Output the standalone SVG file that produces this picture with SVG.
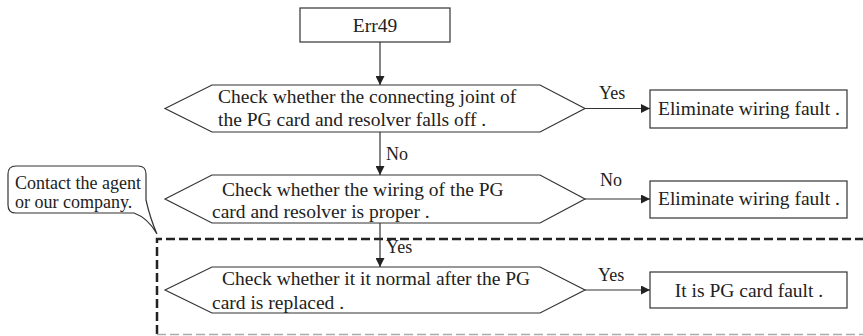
<svg xmlns="http://www.w3.org/2000/svg" width="863" height="336" viewBox="0 0 863 336">
<defs>
<style>
.shape{fill:#fff;stroke:#333;stroke-width:1.2}
.t{font-family:"Liberation Serif","Times New Roman",serif;font-size:19.5px;fill:#222}
.lbl{font-family:"Liberation Serif","Times New Roman",serif;font-size:18px;fill:#222}
.c{stroke:#333;stroke-width:1.2;fill:none}
.dash{stroke:#222;stroke-width:2.5;fill:none;stroke-dasharray:9 4}
</style>
<marker id="ah" viewBox="0 0 10 10" refX="10" refY="5" markerWidth="9" markerHeight="9" markerUnits="userSpaceOnUse" orient="auto">
<path d="M0,0 L10,5 L0,10 Z" fill="#222"/>
</marker>
</defs>
<rect width="863" height="336" fill="#fff"/>
<g id="dashed-region">
<path class="dash" d="M157,334 V239 H863"/>
<path d="M157,334.5 H863" stroke="#aaa" stroke-width="1.5" stroke-dasharray="9 4" fill="none"/>
</g>
<g id="start">
<rect class="shape" x="300" y="8" width="150" height="34"/>
<text class="t" x="375" y="32" text-anchor="middle">Err49</text>
</g>
<g id="check1">
<path class="shape" d="M165,108.5 L212,85 H540 L585,108.5 L540,132 H212 Z"/>
<text class="t" x="218" y="103">Check whether the connecting joint of</text>
<text class="t" x="218" y="126">the PG card and resolver falls off .</text>
</g>
<g id="result1">
<rect class="shape" x="650" y="90" width="197" height="38"/>
<text class="t" x="658" y="115">Eliminate wiring fault .</text>
</g>
<g id="check2">
<path class="shape" d="M165,199 L212,175 H540 L585,199 L540,223 H212 Z"/>
<text class="t" x="222" y="196">Check whether the wiring of the PG</text>
<text class="t" x="212" y="218">card and resolver is proper .</text>
</g>
<g id="result2">
<rect class="shape" x="650" y="181" width="197" height="37"/>
<text class="t" x="658" y="205">Eliminate wiring fault .</text>
</g>
<g id="check3">
<path class="shape" d="M165,290 L212,267 H540 L585,290 L540,313 H212 Z"/>
<text class="t" x="222" y="285">Check whether it it normal after the PG</text>
<text class="t" x="212" y="309">card is replaced .</text>
</g>
<g id="result3">
<rect class="shape" x="650" y="272" width="197" height="36"/>
<text class="t" x="749" y="297" text-anchor="middle">It is PG card fault .</text>
</g>
<g id="callout">
<path class="shape" d="M16,166 H138 Q146,166 146,174 V200 Q150,218 157,234 Q148,218 134,213 H16 Q8,213 8,205 V174 Q8,166 16,166 Z"/>
<text class="lbl" x="15" y="189">Contact the agent</text>
<text class="lbl" x="15" y="208">or our company.</text>
</g>
<g id="connectors">
<path class="c" d="M380,42 V85" marker-end="url(#ah)"/>
<path class="c" d="M380,132 V175" marker-end="url(#ah)"/>
<path class="c" d="M380,223 V267" marker-end="url(#ah)"/>
<path class="c" d="M585,108.5 H650" marker-end="url(#ah)"/>
<path class="c" d="M585,199 H650" marker-end="url(#ah)"/>
<path class="c" d="M585,290 H650" marker-end="url(#ah)"/>
<text class="lbl" x="386" y="160">No</text>
<text class="lbl" x="386" y="253">Yes</text>
<text class="lbl" x="599" y="99">Yes</text>
<text class="lbl" x="600" y="186">No</text>
<text class="lbl" x="598" y="281">Yes</text>
</g>
</svg>
